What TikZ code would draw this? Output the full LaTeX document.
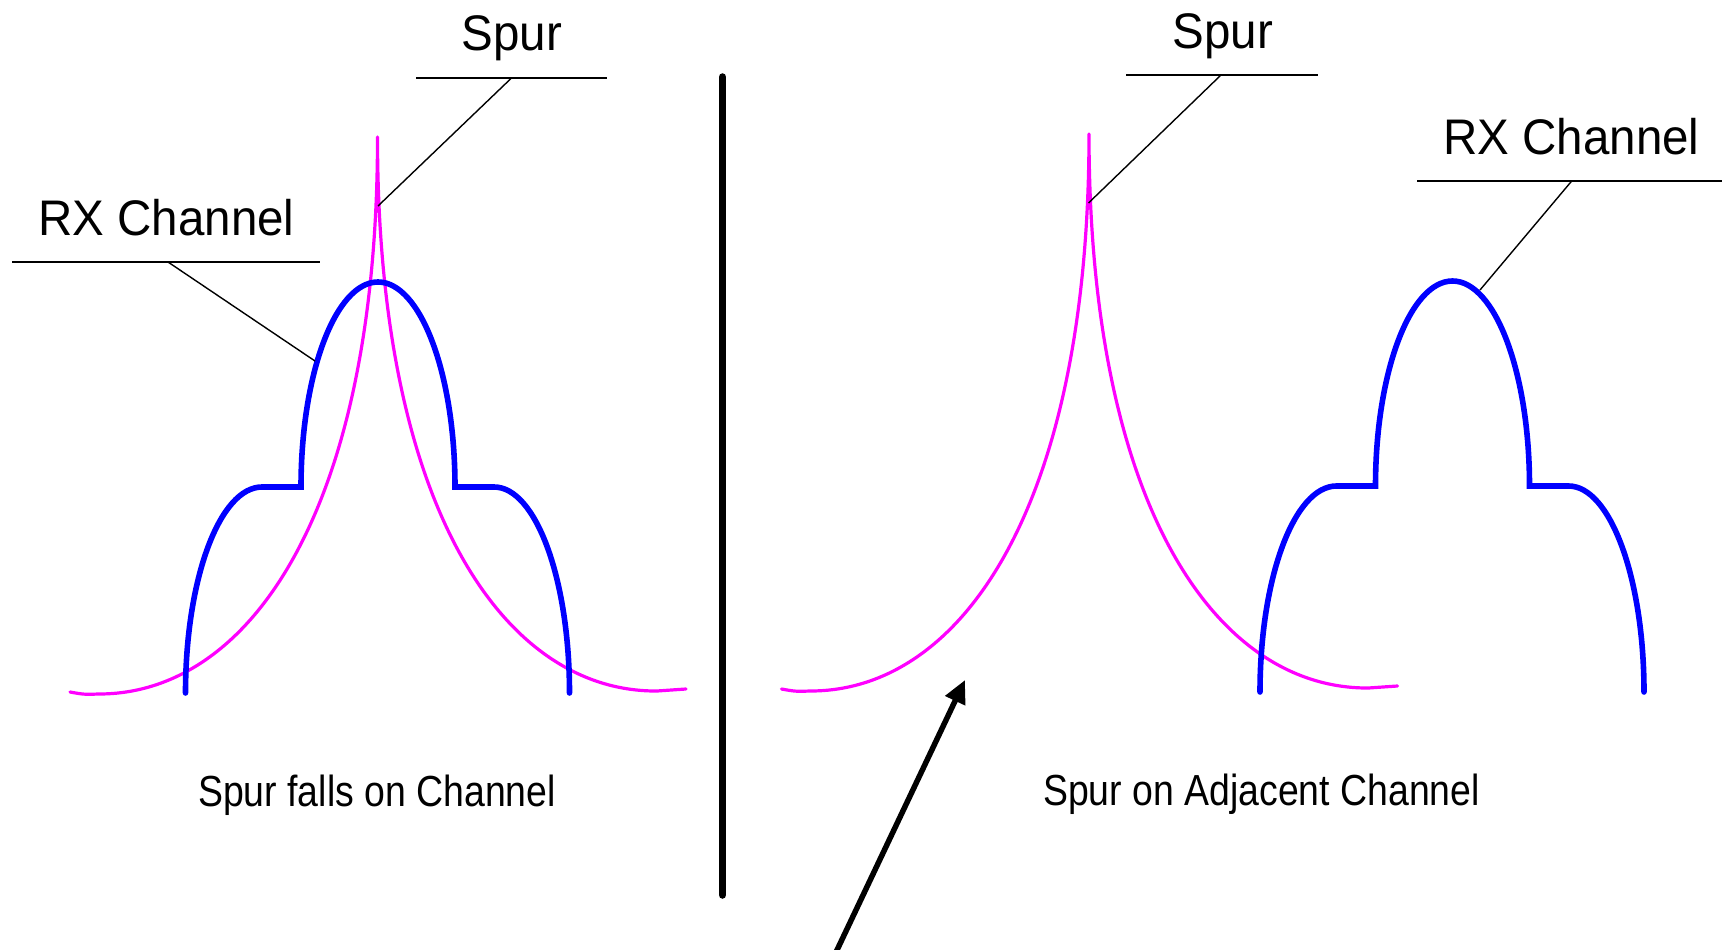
\documentclass[tikz,border=0pt]{standalone}
\usepackage{fontspec}
\setmainfont{Liberation Sans}
\newfontfamily\lblfont[FakeStretch=0.95]{Liberation Sans}
\newfontfamily\capfont[FakeStretch=0.86]{Liberation Sans}
\usetikzlibrary{arrows.meta}
\definecolor{chanblue}{RGB}{0,0,255}
\definecolor{spurmag}{RGB}{255,0,255}
\begin{document}
\begin{tikzpicture}[x=1pt,y=-1pt,
  chan/.style={draw=chanblue, line width=5.6pt, line cap=round, line join=miter},
  spurline/.style={draw=spurmag, line width=3.2pt, line cap=round, line join=round},
  leader/.style={draw=black, line width=1.4pt},
  underline/.style={draw=black, line width=1.6pt},
  lbl/.style={anchor=base, inner sep=0pt, font=\lblfont\fontsize{50}{60}\selectfont},
  capt/.style={anchor=base, inner sep=0pt, font=\capfont\fontsize{43.5}{52}\selectfont},
  divider/.style={draw=black, line width=7.5pt, line cap=round},
  pointer/.style={draw=black, line width=5.5pt, -{Triangle[length=23pt,width=21pt]}},
  chanshape/.pic={
    \draw[chan] (-192.5,206) .. controls (-192.5,92.2) and (-158.3,0) .. (-116,0)
      -- (-77,0) .. controls (-77,-113.2) and (-42.5,-205) .. (0,-205)
      .. controls (42.5,-205) and (77,-113.2) .. (77,0)
      -- (116,0) .. controls (157.7,0) and (191.5,92.2) .. (191.5,206);
  },
  spurshape/.pic={
    \draw[spurline] (-307.5,555) .. controls (-293.5,557.5) .. (-278.5,557)
      .. controls (-127.5,557) and (0,373) .. (0,0)
      .. controls (0,373) and (127.5,555) .. (279.5,554)
      .. controls (294,553.5) .. (308.5,552);
  }
]
\fill[white] (0,0) rectangle (1722,950);
\useasboundingbox (0,0) rectangle (1722,950);

% ---------- left panel ----------
\pic at (377.5,137) {spurshape};
\pic at (378,487) {chanshape};

\node[lbl] (spurL) at (512,51) {Spur};
\coordinate (spurLa) at (416,78);
\coordinate (spurLb) at (607,78);
\coordinate (spurLm) at (511.5,78);
\coordinate (spurLt) at (378,206);
\draw[underline] (spurLa) -- (spurLb);
\draw[leader] (spurLm) -- (spurLt);

\node[lbl] (rxL) at (166.5,235) {RX Channel};
\coordinate (rxLa) at (12,262);
\coordinate (rxLb) at (320,262);
\coordinate (rxLm) at (168,262);
\coordinate (rxLt) at (315,361);
\draw[underline] (rxLa) -- (rxLb);
\draw[leader] (rxLm) -- (rxLt);

\node[capt] (capL) at (377,806.5) {Spur falls on Channel};

% ---------- divider ----------
\coordinate (divTop) at (722.5,77);
\coordinate (divBot) at (722.5,895);
\draw[divider] (divTop) -- (divBot);

% ---------- right panel ----------
\pic at (1089,134) {spurshape};
\pic at (1452.5,486) {chanshape};

\node[lbl] (spurR) at (1223,48.5) {Spur};
\coordinate (spurRa) at (1126,75);
\coordinate (spurRb) at (1318,75);
\coordinate (spurRm) at (1221,75);
\coordinate (spurRt) at (1088.5,203);
\draw[underline] (spurRa) -- (spurRb);
\draw[leader] (spurRm) -- (spurRt);

\node[lbl] (rxR) at (1571.5,154.3) {RX Channel};
\coordinate (rxRa) at (1417,181);
\coordinate (rxRb) at (1722,181);
\coordinate (rxRm) at (1571.7,181);
\coordinate (rxRt) at (1480,290);
\draw[underline] (rxRa) -- (rxRb);
\draw[leader] (rxRm) -- (rxRt);

\node[capt] (capR) at (1261.5,805) {Spur on Adjacent Channel};

% ---------- arrow ----------
\coordinate (arrTail) at (832.3,960);
\coordinate (arrTip) at (965,680);
\draw[pointer] (arrTail) -- (arrTip);
\end{tikzpicture}
\end{document}
